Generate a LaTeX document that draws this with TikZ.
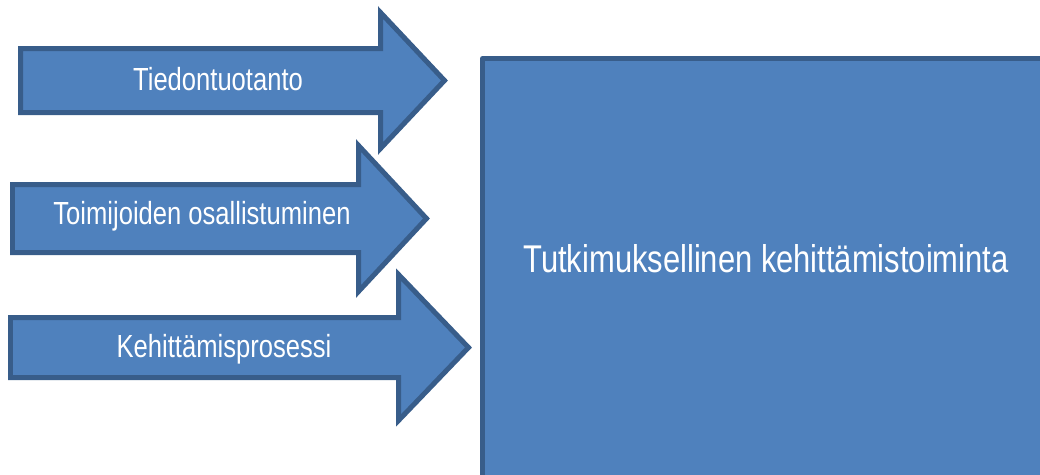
\documentclass[tikz,border=0pt]{standalone}
\usepackage{fontspec}
\setmainfont[FakeStretch=0.8]{Liberation Sans}
\usetikzlibrary{positioning}
\definecolor{BlockFill}{HTML}{4F81BD}
\definecolor{BlockEdge}{HTML}{385D8A}

\begin{document}
\begin{tikzpicture}[x=0.02cm, y=-0.02cm,
  blk/.style={draw=BlockEdge, fill=BlockFill, line width=0.1cm},
  lbl/.style={text=white, anchor=base, inner sep=0pt, font=\fontsize{18.2pt}{21pt}\selectfont},
  biglbl/.style={lbl, font=\fontsize{22pt}{26pt}\selectfont},
]
\useasboundingbox (0,0) rectangle (1040,474);
\clip (0,0) rectangle (1040,474);
% three input arrows
\foreach \nm/\xl/\ytop/\ybot/\xbase/\yhtop/\yhbot/\xtip/\xtxt/\ytxt/\txt in {
  tieto/20.5/48.5/112.5/380.5/12.5/148.5/444.5/218/90/Tiedontuotanto,
  toimijat/12.5/184.5/252.5/358.5/145.5/291.5/426.5/202/224/Toimijoiden osallistuminen,
  prosessi/10.5/317.5/377.5/398.5/274.5/420.5/468.5/224/357/Kehittämisprosessi}{
  \pgfmathsetmacro{\ymid}{(\yhtop+\yhbot)/2}
  \draw[blk] (\xl,\ytop) -- (\xbase,\ytop) -- (\xbase,\yhtop) -- (\xtip,\ymid) -- (\xbase,\yhbot) -- (\xbase,\ybot) -- (\xl,\ybot) -- cycle;
  \node[lbl] (\nm) at (\xtxt,\ytxt) {\txt};
}
% main box
\draw[blk, line join=round] (482.5,58.5) rectangle (1060,500);
\node[biglbl] (kehitys) at (766,272) {Tutkimuksellinen kehittämistoiminta};
\end{tikzpicture}
\end{document}
